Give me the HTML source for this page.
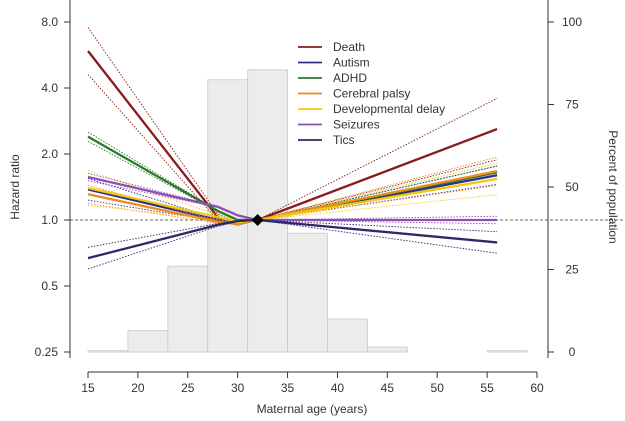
<!DOCTYPE html>
<html><head><meta charset="utf-8"><style>
body{margin:0;background:#fff;}
svg{display:block;font-family:"Liberation Sans",sans-serif;}
</style></head><body>
<svg id="chart" width="625" height="421"></svg>
<script>
const histBinStarts=[15,19,23,27,31,35,39,43,47,51,55];
const histPercents=[0.4,6.5,26,82.5,85.5,36,10,1.5,0,0,0.4];
const ages=[15,28,30,32,56];
const seriesNames=["Death","Autism","ADHD","Cerebral palsy","Developmental delay","Seizures","Tics"];
const seriesColors=["#8b1a1a","#2b3090","#2a7a2a","#f08a1c","#f2c80f","#8e4fb5","#2a2a6a"];
const deathHR=[5.9,1.03,0.96,1,2.6];
const autismHR=[1.38,1.0,0.97,1,1.6];
const adhdHR=[2.4,1.1,1.0,1,1.65];
const cpHR=[1.31,0.98,0.96,1,1.67];
const ddHR=[1.4,1.03,0.98,1,1.54];
const seizuresHR=[1.57,1.15,1.05,1,1.0];
const ticsHR=[0.67,0.95,0.99,1,0.79];
const ciWidthStart=[1.28,1.12,1.05,1.1,1.2,1.04,1.12];
const ciWidthEnd=[1.38,1.1,1.07,1.16,1.18,1.04,1.12];
const xTicks=[15,20,25,30,35,40,45,50,55,60];
const yTicks=[0.25,0.5,1,2,4,8];
const yTickLabels=["0.25","0.5","1.0","2.0","4.0","8.0"];
const rTicks=[0,25,50,75,100];

const allHR=[deathHR,autismHR,adhdHR,cpHR,ddHR,seizuresHR,ticsHR];
const NS="http://www.w3.org/2000/svg";
const svg=document.getElementById('chart');
const X=a=>88+(a-15)*(449/45);
const Y=v=>220-Math.log2(v)*66;
const R=p=>352-p*3.3;
function el(t,at,parent){const e=document.createElementNS(NS,t);for(const k in at)e.setAttribute(k,at[k]);(parent||svg).appendChild(e);return e;}

// histogram
histBinStarts.forEach((b,i)=>{
 const r=el('rect',{x:X(b),y:R(histPercents[i]),width:X(b+4)-X(b),height:352-R(histPercents[i]),fill:'#ececec',stroke:'#c8c8c8','stroke-width':0.8});
 
 
});
// reference line
const ref=el('line',{x1:70,x2:625,y1:Y(1),y2:Y(1),stroke:'#333','stroke-width':0.8,'stroke-dasharray':'3,2'});



// series
allHR.forEach((vals,s)=>{
 const n=vals.length;
 [1,-1].forEach(sign=>{
  const pts=ages.map((a,i)=>{
   const f=i===0?ciWidthStart[s]:(i===n-1?ciWidthEnd[s]:1+(Math.abs(a-32)/17)*(ciWidthStart[s]-1)*0.5);
   return X(a)+','+Y(vals[i]*Math.pow(f,sign));
  }).join(' ');
  const c=el('polyline',{points:pts,fill:'none',stroke:seriesColors[s],'stroke-width':0.9,'stroke-dasharray':'1.5,1.5'});
  
  
 });
 const p=el('polyline',{points:ages.map((a,i)=>X(a)+','+Y(vals[i])).join(' '),fill:'none',stroke:seriesColors[s],'stroke-width':2.3,'stroke-linejoin':'round'});
 
 
});
const d=el('path',{d:`M${X(32)-6},${Y(1)} L${X(32)},${Y(1)-6} L${X(32)+6},${Y(1)} L${X(32)},${Y(1)+6}Z`,fill:'#000'});



// axes
const la=el('line',{x1:70,x2:70,y1:0,y2:358,stroke:'#333','stroke-width':1});


const ra=el('line',{x1:548,x2:548,y1:0,y2:358,stroke:'#333','stroke-width':1});


const ba=el('line',{x1:X(15),x2:X(60),y1:372,y2:372,stroke:'#333','stroke-width':1});


yTicks.forEach((v,i)=>{
 el('line',{x1:64,x2:70,y1:Y(v),y2:Y(v),stroke:'#333'});
 const t=el('text',{x:58,y:Y(v)+4,'text-anchor':'end','font-size':12,fill:'#333'});t.textContent=yTickLabels[i];
 
 
});
rTicks.forEach(v=>{
 el('line',{x1:548,x2:554,y1:R(v),y2:R(v),stroke:'#333'});
 const t=el('text',{x:572,y:R(v)+4,'text-anchor':'middle','font-size':12,fill:'#333'});t.textContent=v;
 
 
});
xTicks.forEach(v=>{
 el('line',{x1:X(v),x2:X(v),y1:372,y2:378,stroke:'#333'});
 const t=el('text',{x:X(v),y:392,'text-anchor':'middle','font-size':12,fill:'#333'});t.textContent=v;
 
 
});
const xt=el('text',{x:312,y:413,'text-anchor':'middle','font-size':12,fill:'#333'});xt.textContent='Maternal age (years)';


const yt=el('text',{x:0,y:0,'text-anchor':'middle','font-size':12,fill:'#333',transform:'translate(19,187) rotate(-90)'});yt.textContent='Hazard ratio';


const rt=el('text',{x:0,y:0,'text-anchor':'middle','font-size':12,fill:'#333',transform:'translate(609,187) rotate(90)'});rt.textContent='Percent of population';



// legend
seriesNames.forEach((nm,i)=>{
 const y=47+i*15.5;
 const g=el('g',{});
 
 
 el('line',{x1:298,x2:322,y1:y,y2:y,stroke:seriesColors[i],'stroke-width':1.8},g);
 const t=el('text',{x:333,y:y+4,'font-size':12,fill:'#333'},g);t.textContent=nm;
});
</script>
</body></html>
